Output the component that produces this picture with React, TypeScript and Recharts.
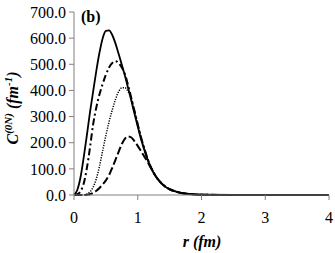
import { LineChart, Line, XAxis, YAxis, Label } from "recharts"

const radius = [0, 0.05, 0.1, 0.15, 0.2, 0.25, 0.3, 0.35, 0.4, 0.45, 0.5, 0.55, 0.6, 0.65, 0.7, 0.75, 0.8, 0.85, 0.9, 0.95, 1.0, 1.05, 1.1, 1.15, 1.2, 1.3, 1.4, 1.5, 1.6, 1.7, 1.8, 1.9, 2.0, 2.5, 3.0, 3.5, 4.0]

const solid = [0, 18, 65, 140, 225, 315, 395, 475, 545, 600, 628, 630, 612, 580, 540, 498, 455, 408, 360, 310, 262, 215, 175, 138, 108, 65, 38, 22, 13, 7, 4, 2, 1, 0, 0, 0, 0]
const dashDot = [0, 3, 13, 42, 100, 180, 270, 335, 385, 425, 460, 488, 505, 512, 505, 488, 462, 418, 370, 320, 270, 222, 180, 142, 110, 66, 39, 22, 13, 7, 4, 2, 1, 0, 0, 0, 0]
const dotted = [0, 0, 0, 0, 3, 12, 30, 62, 110, 170, 228, 280, 325, 365, 395, 410, 410, 395, 368, 322, 272, 224, 181, 143, 110, 66, 39, 22, 13, 7, 4, 2, 1, 0, 0, 0, 0]
const dashed = [0, 0, 0, 0, 1, 3, 8, 16, 27, 40, 56, 76, 104, 134, 165, 195, 216, 224, 220, 205, 188, 168, 148, 128, 106, 65, 38, 22, 13, 7, 4, 2, 1, 0, 0, 0, 0]

const xTicks = [0, 1, 2, 3, 4]
const yTicks = [0, 100, 200, 300, 400, 500, 600, 700]

const data = radius.map((r, i) => ({
  r,
  solid: solid[i],
  dashDot: dashDot[i],
  dotted: dotted[i],
  dashed: dashed[i]
}))

// serif fonts fall back to sans in this sandbox, so keep the stack simple
const font = "'Liberation Serif', 'DejaVu Serif', serif"
const tickStyle = { fontFamily: font, fontSize: 16, fill: "#000" }

function YTitle() {
  return (
    <text
      transform="translate(18, 108) rotate(-90)"
      textAnchor="middle"
      style={{ fontFamily: font }}
      fontSize={16}
      fontWeight="bold"
      fontStyle="italic"
      fill="#000"
    >
      C<tspan fontSize={11} dy={-6}>(0N)</tspan>
      <tspan dy={6}> (fm</tspan>
      <tspan fontSize={11} dy={-6}>-1</tspan>
      <tspan dy={6}>)</tspan>
    </text>
  )
}

function XTitle() {
  return (
    <text
      x={202}
      y={247}
      textAnchor="middle"
      style={{ fontFamily: font }}
      fontSize={16}
      fontWeight="bold"
      fontStyle="italic"
      fill="#000"
    >
      r (fm)
    </text>
  )
}

export default function App() {
  return (
    <div style={{ position: "absolute", left: 0, top: 0, width: 335, height: 253, background: "#fff", fontFamily: font }}>
      <LineChart
        width={335}
        height={253}
        data={data}
        margin={{ top: 12, right: 6, bottom: 28, left: 14 }}
      >
        <XAxis
          dataKey="r"
          type="number"
          domain={[0, 4]}
          ticks={xTicks}
          stroke="#808080"
          tickSize={5}
          tick={tickStyle}
          tickMargin={12}
          height={30}
        >
          <Label content={<XTitle />} />
        </XAxis>
        <YAxis
          type="number"
          domain={[0, 700]}
          ticks={yTicks}
          stroke="#808080"
          tickSize={5}
          tick={tickStyle}
          tickMargin={3}
          tickFormatter={(v: number) => v.toFixed(1)}
          width={60}
        >
          <Label content={<YTitle />} />
        </YAxis>
        <Line type="monotone" dataKey="solid" stroke="#000" strokeWidth={1.8} dot={false} isAnimationActive={false} />
        <Line type="monotone" dataKey="dashDot" stroke="#000" strokeWidth={2} strokeDasharray="7 3 2 3" dot={false} isAnimationActive={false} />
        <Line type="monotone" dataKey="dotted" stroke="#000" strokeWidth={1.5} strokeDasharray="1.2 1.3" dot={false} isAnimationActive={false} />
        <Line type="monotone" dataKey="dashed" stroke="#000" strokeWidth={2} strokeDasharray="8 3" dot={false} isAnimationActive={false} />
      </LineChart>
      <div
        style={{
          position: "absolute",
          left: 81,
          top: 8,
          fontFamily: font,
          fontSize: 16,
          fontWeight: "bold",
          color: "#000"
        }}
      >
        (b)
      </div>
    </div>
  )
}
